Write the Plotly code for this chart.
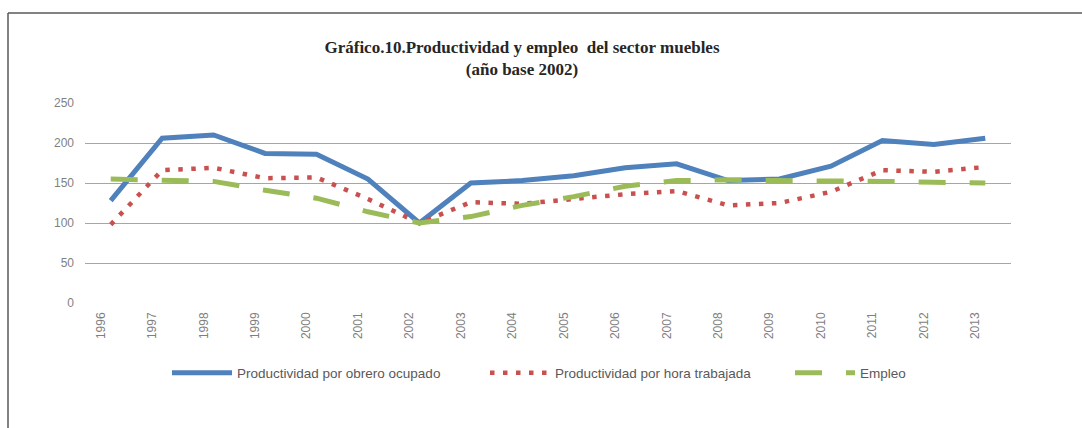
import plotly.graph_objects as go

# Years on the category axis
years = ["1996", "1997", "1998", "1999", "2000", "2001", "2002", "2003", "2004",
         "2005", "2006", "2007", "2008", "2009", "2010", "2011", "2012", "2013"]

# Index values (2002 = 100)
prod_obrero = [128, 206, 210, 187, 186, 155, 100, 150, 153,
               159, 169, 174, 153, 155, 171, 203, 198, 206]
prod_hora = [98, 166, 169, 156, 157, 130, 100, 126, 124,
             130, 136, 140, 122, 125, 139, 166, 164, 170]
empleo = [155, 153, 152, 141, 131, 114, 100, 108, 122,
          133, 146, 153, 154, 153, 153, 152, 151, 150]

y_ticks = [0, 50, 100, 150, 200, 250]

W, H = 1082, 428
L, R, T, B = 85, 71, 103, 125
pw, ph = W - L - R, H - T - B


def px_x(p):
    return (p - L) / pw


def px_y(p):
    return (H - B - p) / ph


fig = go.Figure()
fig.add_trace(go.Scatter(
    x=years, y=prod_obrero, mode="lines", name="Productividad por obrero ocupado",
    line=dict(color="#4F81BD", width=5), legend="legend",
))
fig.add_trace(go.Scatter(
    x=years, y=prod_hora, mode="lines", name="Productividad por hora trabajada",
    line=dict(color="#C9504F", width=4.5, dash="4.5px,8.5px"), legend="legend2",
))
fig.add_trace(go.Scatter(
    x=years, y=empleo, mode="lines", name="Empleo",
    line=dict(color="#9BBB59", width=5, dash="27px,24px"), legend="legend3",
))

tick_font = dict(family="Liberation Sans, Arial, sans-serif", size=12, color="#7F7F7F")
legend_font = dict(family="Liberation Sans, Arial, sans-serif", size=13.5, color="#595959")


def legend_at(px_left):
    return dict(
        orientation="h", x=px_x(px_left), xanchor="left", y=px_y(373), yanchor="middle",
        font=legend_font, itemwidth=60, bgcolor="rgba(0,0,0,0)",
    )


fig.update_layout(
    width=W, height=H,
    margin=dict(l=L, r=R, t=T, b=B, autoexpand=False),
    paper_bgcolor="white", plot_bgcolor="white",
    title=dict(
        text="Gráfico.10.Productividad y empleo  del sector muebles<br>(año base 2002)",
        font=dict(family="Liberation Serif, Times New Roman, serif", size=17, color="#262626",
                  weight="bold"),
        x=522 / W, xanchor="center", y=1 - 53 / H, yanchor="middle",
    ),
    xaxis=dict(
        type="category", categoryorder="array", categoryarray=years,
        range=[-0.5, len(years) - 0.5],
        tickangle=-90, tickfont=tick_font, ticklabelshift=-10, ticklabelstandoff=6,
        showgrid=False, zeroline=False, showline=False, ticks="",
    ),
    yaxis=dict(
        range=[0, 250], tickvals=y_ticks, tickfont=tick_font,
        showgrid=True, gridcolor="#A6A6A6", gridwidth=1,
        zeroline=False, showline=False, ticks="", ticklabelstandoff=10,
    ),
    showlegend=True,
    legend=legend_at(167),
    legend2=legend_at(485),
    legend3=legend_at(790),
    shapes=[
        dict(type="line", xref="paper", yref="paper",
             x0=px_x(8), x1=px_x(1082), y0=px_y(13), y1=px_y(13),
             line=dict(color="#595959", width=1.5)),
        dict(type="line", xref="paper", yref="paper",
             x0=px_x(8), x1=px_x(8), y0=px_y(13), y1=px_y(428),
             line=dict(color="#595959", width=1.5)),
    ],
)

fig.write_html("out.html")
